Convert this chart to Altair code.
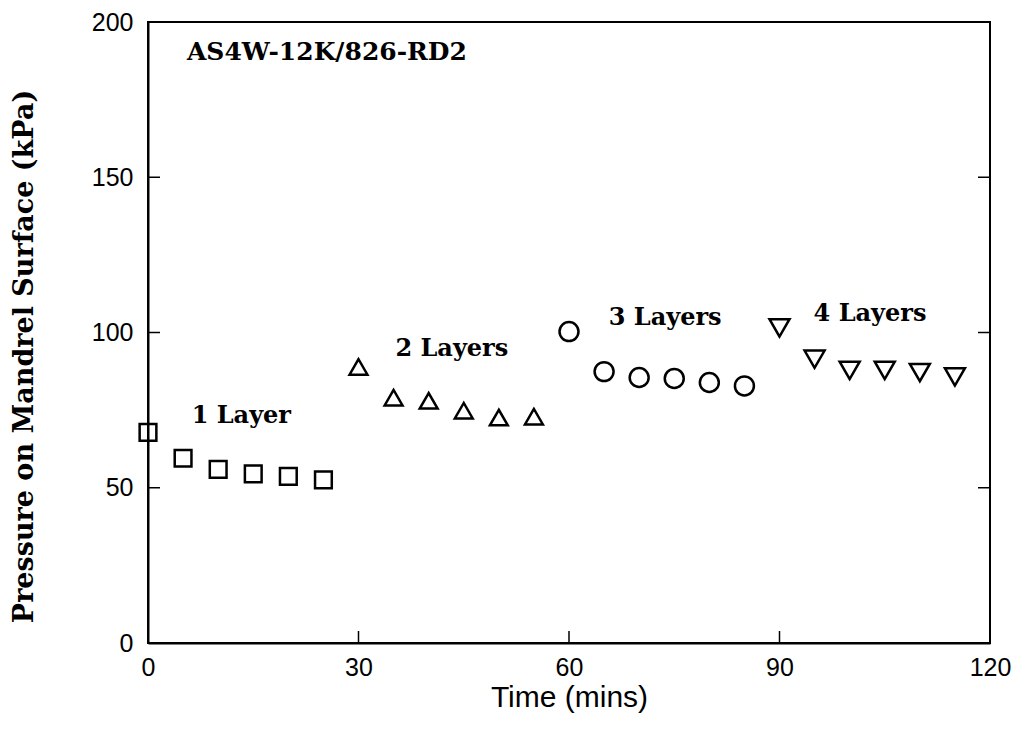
import altair as alt
import pandas as pd

# ---- data ----
time_1 = [0, 5, 10, 15, 20, 25]
press_1 = [67.8, 59.5, 55.9, 54.5, 53.7, 52.5]
time_2 = [30, 35, 40, 45, 50, 55]
press_2 = [88.9, 79.0, 78.0, 74.8, 72.6, 72.9]
time_3 = [60, 65, 70, 75, 80, 85]
press_3 = [100.3, 87.4, 85.5, 85.2, 83.9, 82.8]
time_4 = [90, 95, 100, 105, 110, 115]
press_4 = [101.5, 91.4, 87.8, 87.8, 87.1, 85.7]

series_names = ["1 Layer", "2 Layers", "3 Layers", "4 Layers"]
label_x = [13.3, 43.3, 73.7, 102.9]
label_y = [73.2, 94.7, 104.8, 105.8]
title_text = "AS4W-12K/826-RD2"

x_ticks = [0, 30, 60, 90, 120]
y_ticks = [0, 50, 100, 150, 200]
inner_x_ticks = [30, 60, 90]
inner_y_ticks = [50, 100, 150]

rows = []
for name, ts, ps in zip(series_names, [time_1, time_2, time_3, time_4],
                        [press_1, press_2, press_3, press_4]):
    for t, p in zip(ts, ps):
        rows.append({"time": t, "pressure": p, "series": name})
df = pd.DataFrame(rows)
labels_df = pd.DataFrame({"x": label_x, "y": label_y, "text": series_names})
title_df = pd.DataFrame({"x": [25.5], "y": [190.4], "text": [title_text]})
xt_df = pd.DataFrame({"t": inner_x_ticks})
yt_df = pd.DataFrame({"p": inner_y_ticks})

xscale = alt.Scale(domain=[0, 120], nice=False, zero=False)
yscale = alt.Scale(domain=[0, 200], nice=False, zero=False)

W, H = 842, 621

xaxis = alt.Axis(values=x_ticks, title="Time (mins)", titlePadding=2, titleFontSize=30)
yaxis = alt.Axis(values=y_ticks, title="Pressure on Mandrel Surface (kPa)",
                 titleFont="DejaVu Serif", titleFontSize=27, titleFontWeight="bold",
                 titleX=-110, titleY=334, titleAngle=270, titleBaseline="bottom",
                 titleAlign="center")

points = alt.Chart(df).mark_point(filled=False, strokeWidth=2.5, opacity=1, color="black").encode(
    x=alt.X("time:Q", scale=xscale, axis=xaxis),
    y=alt.Y("pressure:Q", scale=yscale, axis=yaxis),
    shape=alt.Shape("series:N", scale=alt.Scale(domain=series_names,
                    range=["square", "triangle-up", "circle", "triangle-down"]), legend=None),
    size=alt.Size("series:N", scale=alt.Scale(domain=series_names,
                  range=[280, 400, 400, 340]), legend=None),
)

labels = alt.Chart(labels_df).mark_text(font="DejaVu Serif", fontSize=24, fontWeight="bold",
                                         color="black", align="center", baseline="middle").encode(
    x=alt.X("x:Q", scale=xscale), y=alt.Y("y:Q", scale=yscale), text="text:N")

title = alt.Chart(title_df).mark_text(font="DejaVu Serif", fontSize=25, fontWeight="bold",
                                       color="black", align="center", baseline="middle").encode(
    x=alt.X("x:Q", scale=xscale), y=alt.Y("y:Q", scale=yscale), text="text:N")

bottom_ticks = alt.Chart(xt_df).mark_rule(color="black", strokeWidth=1.5).encode(
    x=alt.X("t:Q", scale=xscale), y=alt.value(H), y2=alt.value(H - 12))
left_ticks = alt.Chart(yt_df).mark_rule(color="black", strokeWidth=1.5).encode(
    y=alt.Y("p:Q", scale=yscale), x=alt.value(0), x2=alt.value(12))
right_ticks = alt.Chart(yt_df).mark_rule(color="black", strokeWidth=1.5).encode(
    y=alt.Y("p:Q", scale=yscale), x=alt.value(W), x2=alt.value(W - 12))

chart = alt.layer(points, bottom_ticks, left_ticks, right_ticks, labels, title).properties(
    width=W, height=H,
    autosize=alt.AutoSizeParams(type="none"),
    padding={"left": 140, "top": 14, "right": 22, "bottom": 80},
    background="white",
).configure_axis(
    grid=False, ticks=False, tickSize=0, labelFlush=False,
    labelFont="Liberation Sans", labelFontSize=25, labelColor="black",
    titleFont="Liberation Sans", titleFontSize=28, titleFontWeight="normal", titleColor="black",
    domainColor="black", domainWidth=2,
).configure_axisX(labelPadding=12).configure_axisY(labelPadding=15).configure_view(
    stroke="black", strokeWidth=2)

chart.save("out.html", embed_options={"renderer": "svg", "actions": False})
